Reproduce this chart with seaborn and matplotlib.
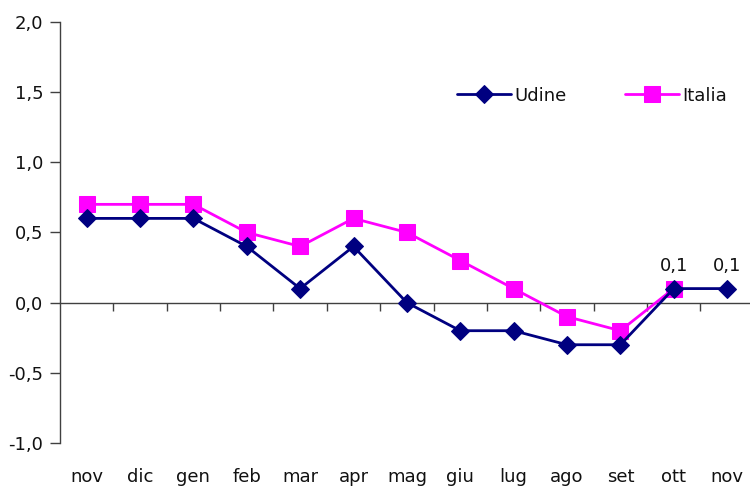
import numpy as np
import pandas as pd
import matplotlib
matplotlib.use("Agg")
import matplotlib.pyplot as plt
import seaborn as sns

# mesi e valori (variazione %)
mesi = ["nov", "dic", "gen", "feb", "mar", "apr", "mag", "giu", "lug", "ago", "set", "ott", "nov"]
udine = [0.6, 0.6, 0.6, 0.4, 0.1, 0.4, 0.0, -0.2, -0.2, -0.3, -0.3, 0.1, 0.1]
italia = [0.7, 0.7, 0.7, 0.5, 0.4, 0.6, 0.5, 0.3, 0.1, -0.1, -0.2, 0.1, np.nan]
yticks = [-1.0, -0.5, 0.0, 0.5, 1.0, 1.5, 2.0]

sns.set_style("white")
plt.rcParams['font.family'] = ['DejaVu Sans']
plt.rcParams['text.color'] = '#111111'
plt.rcParams['xtick.color'] = '#111111'
plt.rcParams['ytick.color'] = '#111111'

pos = list(range(len(mesi)))
df = pd.DataFrame({"pos": pos, "Udine": udine, "Italia": italia})

fig = plt.figure(figsize=(7.5, 4.88), dpi=100)
ax = fig.add_axes([0.08, 0.0922, 0.925, 0.863])

sns.lineplot(data=df, x="pos", y="Udine", ax=ax, color="#000080", marker="D",
             markersize=9, linewidth=2, markeredgecolor="#000080", label="Udine")
sns.lineplot(data=df, x="pos", y="Italia", ax=ax, color="#FF00FF", marker="s",
             markersize=11, linewidth=2, markeredgecolor="#FF00FF", label="Italia")
# riporta Udine sopra Italia
ax.lines[0].set_zorder(4)

ax.set_xlim(-0.5, len(mesi) - 0.5)
ax.set_ylim(-1.0, 2.0)
ax.set_xlabel("")
ax.set_ylabel("")

ax.set_yticks(yticks)
ax.set_yticklabels([f"{v:.1f}".replace(".", ",") for v in yticks], fontsize=13)
ax.tick_params(axis="y", direction="out", length=7, width=1, color="#404040", pad=5, left=True)

ax.set_xticks(pos)
ax.set_xticklabels(mesi, fontsize=13)
ax.tick_params(axis="x", length=0, pad=18)

for s in ["top", "right", "bottom"]:
    ax.spines[s].set_visible(False)
ax.spines["left"].set_color("#404040")
ax.spines["left"].set_linewidth(1)

# asse orizzontale sullo zero con tacche tra i mesi
sec = ax.secondary_xaxis(1 / 3)
sec.set_xticks([p + 0.5 for p in pos[:-1]])
sec.set_xticklabels([])
sec.tick_params(direction="out", length=6, width=1, color="#404040")
sec.spines["bottom"].set_color("#404040")
sec.spines["bottom"].set_linewidth(1)

# etichette ultimi valori
for i in [11, 12]:
    ax.annotate(f"{udine[i]:.1f}".replace(".", ","), (pos[i], udine[i]),
                xytext=(0, 13), textcoords="offset points", ha="center", va="baseline", fontsize=13)

ax.legend(loc="upper right", bbox_to_anchor=(0.985, 0.885), ncol=2, frameon=False,
          fontsize=13, handlelength=3.0, columnspacing=3.2, handletextpad=0.2)

fig.savefig("out.png", dpi=100)
